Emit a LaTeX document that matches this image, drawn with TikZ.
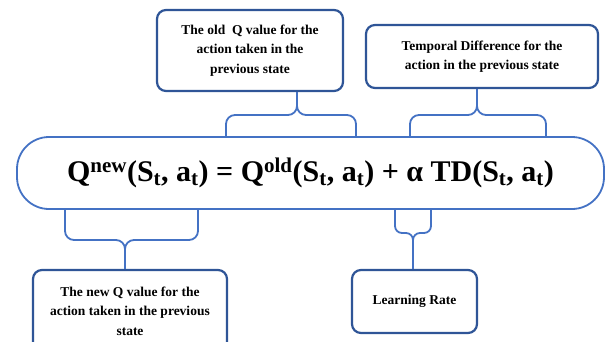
\documentclass[tikz,border=0pt]{standalone}
\usepackage{fontspec}
\setmainfont{Liberation Serif}
\usepackage{tikz}
\usetikzlibrary{positioning}
\definecolor{qBoxBlue}{RGB}{47,85,151}
\definecolor{qLineBlue}{RGB}{68,114,196}
\tikzset{
  % labels around the update rule
  notebox/.style={
    rounded corners=9pt,
    draw=qBoxBlue,
    fill=white,
    line width=2.2pt,
    align=center,
    inner sep=2pt,
    font=\bfseries\fontsize{13.5}{19.5}\selectfont
  },
  rulebox/.style={
    rounded corners=32pt,
    draw=qLineBlue,
    fill=white,
    line width=1.8pt,
    minimum width=587pt,
    minimum height=72pt,
    font=\bfseries\fontsize{30}{36}\selectfont
  },
  brace/.style={
    draw=qLineBlue,
    line width=1.8pt,
    rounded corners=9pt
  }
}
\begin{document}
\begin{tikzpicture}[x=1pt,y=-1pt]
\useasboundingbox (0,0) rectangle (607,341);

% the update rule
\node[rulebox] (formula) at (310.5,173)
{Q\textsuperscript{new}(S\textsubscript{t}, a\textsubscript{t}) = Q\textsuperscript{old}(S\textsubscript{t}, a\textsubscript{t}) + α TD(S\textsubscript{t}, a\textsubscript{t})};

% the four notes
\node[notebox, minimum width=186pt, minimum height=81pt] (oldq) at (250,50.5)
{The old \ Q value for the\\action taken in the\\previous state};
\node[notebox, minimum width=232pt, minimum height=63pt] (tdbox) at (482,56.5)
{Temporal Difference for the\\action in the previous state};
\node[notebox, minimum width=194pt, minimum height=82pt] (newq) at (130,311)
{The new Q value for the\\action taken in the previous\\state};
\node[notebox, minimum width=125pt, minimum height=63pt] (lrate) at (414.5,301.5)
{Learning Rate};

% braces: arm, arm, stem
\coordinate (oldL) at (226,115);
\coordinate (oldM) at (297,115);
\coordinate (oldR) at (356,115);
\draw[brace] (formula.north -| oldL) -- (oldL) -- (oldM) -- (oldq.south -| oldM);
\draw[brace] (formula.north -| oldR) -- (oldR) -- (oldM) -- (oldq.south -| oldM);

\coordinate (tdL) at (410,115);
\coordinate (tdM) at (477,115);
\coordinate (tdR) at (546,115);
\draw[brace] (formula.north -| tdL) -- (tdL) -- (tdM) -- (tdbox.south -| tdM);
\draw[brace] (formula.north -| tdR) -- (tdR) -- (tdM) -- (tdbox.south -| tdM);

\coordinate (newL) at (65,240);
\coordinate (newM) at (125,240);
\coordinate (newR) at (198,240);
\draw[brace] (formula.south -| newL) -- (newL) -- (newM) -- (newq.north -| newM);
\draw[brace] (formula.south -| newR) -- (newR) -- (newM) -- (newq.north -| newM);

\coordinate (lrL) at (395,233);
\coordinate (lrM) at (413,233);
\coordinate (lrR) at (431,233);
\draw[brace, rounded corners=7pt] (formula.south -| lrL) -- (lrL) -- (lrM) -- (lrate.north -| lrM);
\draw[brace, rounded corners=7pt] (formula.south -| lrR) -- (lrR) -- (lrM) -- (lrate.north -| lrM);

\end{tikzpicture}
\end{document}
